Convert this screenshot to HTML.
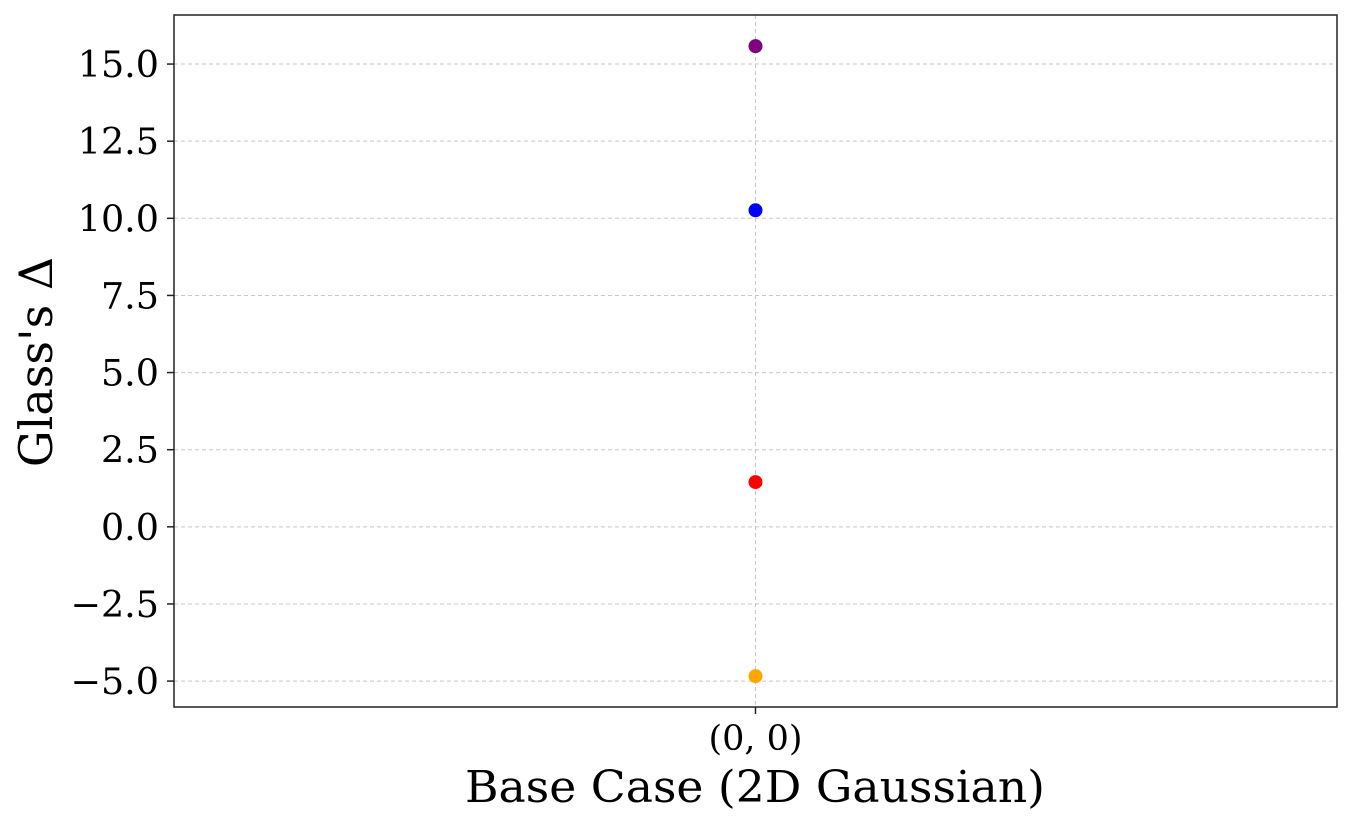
<!DOCTYPE html>
<html><head><meta charset="utf-8"><style>
body{margin:0;background:#fff}
svg text{font-family:"DejaVu Serif","Liberation Serif",serif;fill:#000}
</style></head><body>
<svg id="chart" width="1351" height="827" viewBox="0 0 1351 827" xmlns="http://www.w3.org/2000/svg">
<g id="grid"></g>
<g id="points"></g>
<rect x="174" y="15" width="1163" height="692" fill="none" stroke="#222" stroke-width="1.5"/>
<g id="yticks"></g>
<g id="xticks"></g>
<text x="755" y="802" font-size="44" text-anchor="middle" textLength="580" lengthAdjust="spacingAndGlyphs">Base Case (2D Gaussian)</text>
<text transform="translate(52,362) rotate(-90)" font-size="46" text-anchor="middle">Glass's Δ</text>
</svg>
<script>
const categories = ["(0, 0)"];
const values = [15.58, 10.26, 1.45, -4.84];
const colors = ["purple", "blue", "red", "orange"];
const yTicks = [-5.0, -2.5, 0.0, 2.5, 5.0, 7.5, 10.0, 12.5, 15.0];
const yTickLabels = ["−5.0", "−2.5", "0.0", "2.5", "5.0", "7.5", "10.0", "12.5", "15.0"];

const L=174,R=1337,T=15,B=707, yMin=-5.84, yMax=16.59;
const ns="http://www.w3.org/2000/svg";
const y=v=>B-(v-yMin)/(yMax-yMin)*(B-T);
const x=i=>L+(R-L)*(i+0.5)/categories.length;
function mk(t,a,p){const e=document.createElementNS(ns,t);for(const k in a)e.setAttribute(k,a[k]);p.appendChild(e);return e;}
const grid=document.getElementById('grid'),yt=document.getElementById('yticks'),xt=document.getElementById('xticks'),pts=document.getElementById('points');
yTicks.forEach((v,i)=>{
  const g=mk('line',{x1:L,x2:R,y1:y(v),y2:y(v),stroke:'#c8c8c8','stroke-width':1,'stroke-dasharray':'4,3'},grid);
  
  
  const tk=mk('line',{x1:L-7,x2:L,y1:y(v),y2:y(v),stroke:'#222','stroke-width':1.5},yt);
  
  
  const t=mk('text',{x:L-15,y:y(v)+13,'font-size':36.5,'text-anchor':'end'},yt);
  
  
  t.textContent=yTickLabels[i];
});
categories.forEach((c,i)=>{
  const g=mk('line',{x1:x(i),x2:x(i),y1:T,y2:B,stroke:'#c8c8c8','stroke-width':1,'stroke-dasharray':'4,3'},grid);
  
  
  const tk=mk('line',{x1:x(i),x2:x(i),y1:B,y2:B+7,stroke:'#222','stroke-width':1.5},xt);
  
  
  const t=mk('text',{x:x(i),y:B+43,'font-size':35,'text-anchor':'middle'},xt);
  
  
  t.textContent=c;
});
values.forEach((v,i)=>{
  const p=mk('circle',{cx:x(0),cy:y(v),r:7,fill:colors[i]},pts);
  
  
});
</script>
</body></html>
